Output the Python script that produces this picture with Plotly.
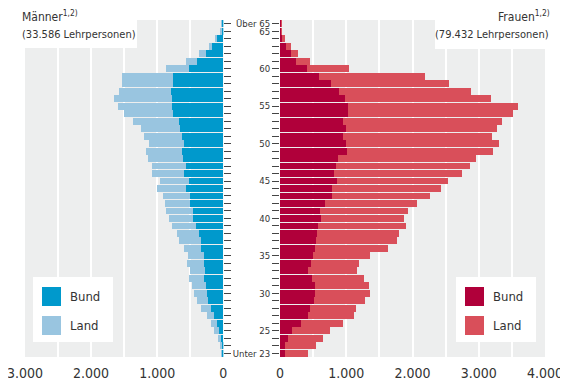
import plotly.graph_objects as go

# age classes, bottom to top
ages = ["Unter 23"] + [str(a) for a in range(23, 66)] + ["Über 65"]

maenner_bund = [20, 20, 35, 65, 95, 141, 186, 231, 246, 261,
                291, 276, 291, 291, 337, 337, 367, 412, 457, 457,
                503, 503, 563, 518, 593, 563, 608, 623, 593, 623,
                653, 668, 759, 774, 774, 789, 759, 759, 518, 397,
                261, 171, 90, 20, 20]
maenner_land = [5, 30, 45, 75, 90, 106, 151, 166, 196, 211,
                226, 226, 256, 241, 256, 332, 332, 362, 362, 407,
                377, 407, 437, 437, 482, 513, 528, 543, 528, 573,
                588, 693, 739, 814, 874, 784, 769, 769, 347, 166,
                106, 45, 35, 15, 10]
frauen_bund = [75, 75, 121, 181, 317, 422, 452, 513, 528, 528,
               482, 422, 467, 497, 528, 543, 558, 573, 618, 603,
               678, 784, 784, 859, 814, 844, 874, 1010, 995, 950,
               995, 950, 1025, 1025, 980, 889, 769, 588, 407, 240,
               160, 90, 40, 20, 20]
frauen_land = [347, 467, 528, 573, 633, 693, 693, 769, 829, 814,
               784, 739, 724, 860, 1101, 1221, 1236, 1327, 1251, 1327,
               1387, 1477, 1643, 1673, 1930, 2020, 2080, 2201, 2307, 2246,
               2276, 2397, 2488, 2563, 2201, 1990, 1779, 1598, 633, 210,
               110, 75, 30, 10, 5]

left_ticks = [0, 1000, 2000, 3000]
left_text = ["0", "1.000", "2.000", "3.000"]
right_ticks = [0, 1000, 2000, 3000, 4000]
right_text = ["0", "1.000", "2.000", "3.000", "4.000"]

age_text = [a if a in ("Unter 23", "Über 65") or (a.isdigit() and int(a) % 5 == 0) else " "
            for a in ages]

BLUE, LBLUE = "#0099CC", "#99C5E0"
RED, LRED = "#B0003A", "#D94F5A"
FONT = "Liberation Sans Narrow, DejaVu Sans Condensed, Arial Narrow, sans-serif"
TXT = "#333333"

# the page body has an 8px margin, so the figure is 8px smaller and the
# window coordinates below are shifted by that offset
OFF = 8
W, H = 568 - OFF, 383 - OFF
px = lambda x: (x - OFF) / W
py = lambda y: 1 - (y - OFF) / H

fig = go.Figure()
fig.add_trace(go.Bar(y=ages, x=maenner_bund, orientation="h", marker=dict(color=BLUE, line_width=0),
                     name="Bund", xaxis="x", yaxis="y"))
fig.add_trace(go.Bar(y=ages, x=maenner_land, orientation="h", marker=dict(color=LBLUE, line_width=0),
                     name="Land", xaxis="x", yaxis="y"))
fig.add_trace(go.Bar(y=ages, x=frauen_bund, orientation="h", marker=dict(color=RED, line_width=0),
                     name="Bund", xaxis="x2", yaxis="y2"))
fig.add_trace(go.Bar(y=ages, x=frauen_land, orientation="h", marker=dict(color=LRED, line_width=0),
                     name="Land", xaxis="x2", yaxis="y2"))

ydom = [py(357), py(20)]
axis_common = dict(showline=False, zeroline=False, gridcolor="white", gridwidth=1.5,
                   minor=dict(dtick=500, showgrid=True, gridcolor="white", gridwidth=1.5),
                   tickfont=dict(family=FONT, size=14, color=TXT), ticks="",
                   tickmode="array", ticklabelstandoff=6, ticklabeloverflow="allow",
                   fixedrange=True, automargin=False)
yaxis_common = dict(domain=ydom, type="category", categoryorder="array", categoryarray=ages,
                    range=[-0.5, 44.5], showgrid=False, zeroline=False, ticks="outside",
                    ticklen=7, tickcolor="#444444", tickwidth=1, tickmode="array",
                    tickvals=ages, automargin=False, fixedrange=True,
                    ticklabeloverflow="allow")

fig.update_layout(
    width=W, height=H,
    margin=dict(l=0, r=0, t=0, b=0, autoexpand=False),
    paper_bgcolor="white", plot_bgcolor="#EDEEEE",
    barmode="stack", bargap=0.08, showlegend=False,
    font=dict(family=FONT, color=TXT),
    xaxis=dict(domain=[px(25), px(223.3)], range=[3000, 0], anchor="y",
               tickvals=left_ticks, ticktext=left_text, **axis_common),
    xaxis2=dict(domain=[px(280), px(545)], range=[0, 4000], anchor="y2",
                tickvals=right_ticks, ticktext=right_text, **axis_common),
    yaxis=dict(anchor="x", side="right", showticklabels=False, **yaxis_common),
    yaxis2=dict(anchor="x2", side="left", ticktext=age_text,
                tickfont=dict(family=FONT, size=9.5, color=TXT), **yaxis_common),
)

# white boxes behind the group totals and the legends
shapes = [
    dict(x0=0, x1=px(137), y0=py(48), y1=py(20)),
    dict(x0=px(435), x1=1, y0=py(49), y1=py(20)),
    dict(x0=px(33), x1=px(113), y0=py(342), y1=py(277)),
    dict(x0=px(456), x1=px(536), y0=py(342), y1=py(277)),
]
for s in shapes:
    fig.add_shape(type="rect", xref="paper", yref="paper", fillcolor="white",
                  line_width=0, layer="above", **s)

swatches = [(42, 287, BLUE), (42, 316, LBLUE), (465, 287, RED), (465, 316, LRED)]
for x, y, c in swatches:
    fig.add_shape(type="rect", xref="paper", yref="paper", x0=px(x), x1=px(x + 19),
                  y0=py(y + 19), y1=py(y), fillcolor=c, line_width=0, layer="above")

labels = [
    (20, 16, "Männer<sup>1,2)</sup>", "left", 12),
    (20, 35, "(33.586 Lehrpersonen)", "left", 11),
    (552, 16, "Frauen<sup>1,2)</sup>", "right", 12),
    (551, 35, "(79.432 Lehrpersonen)", "right", 11),
    (68, 296.5, "Bund", "left", 13),
    (68, 325.5, "Land", "left", 13),
    (491, 296.5, "Bund", "left", 13),
    (491, 325.5, "Land", "left", 13),
]
for x, y, t, al, sz in labels:
    fig.add_annotation(x=px(x), y=py(y), xref="paper", yref="paper", text=t, showarrow=False,
                       xanchor=al, yanchor="middle", font=dict(family=FONT, size=sz, color=TXT))

fig.write_html("out.html")
